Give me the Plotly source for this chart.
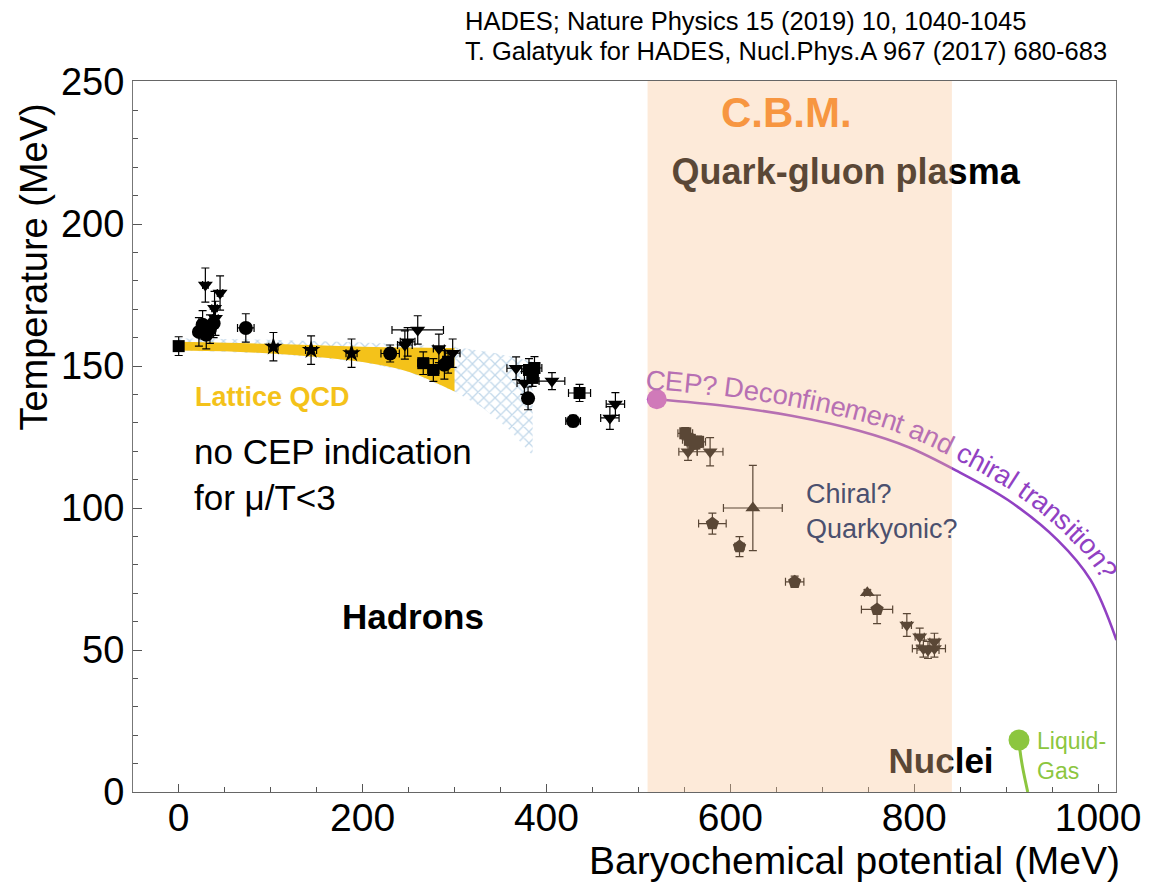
import numpy as np
import plotly.graph_objects as go

# ---------------- figure geometry ----------------
W, H = 1153, 888
ML, MR, MT, MB = 133, 31, 81, 96
PW, PH = W - ML - MR, H - MT - MB
X_RANGE = [-49.7, 1019.5]
Y_RANGE = [0, 250.35]
FONT = "Arial, 'Liberation Sans', sans-serif"

# ---------------- data ----------------
# Lattice QCD crossover band
lqcd_mu = [0, 50, 100, 150, 200, 250, 300]
lqcd_top = [158.5, 158.2, 157.8, 157.3, 156.8, 156.5, 156.3]
lqcd_bot = [155.5, 155.2, 154.4, 153.2, 151.4, 148.0, 141.0]

# hatched extrapolation region (closed outline)
hatch_mu = [0, 100, 200, 300, 345, 385, 385, 360, 330, 300, 250, 200, 100, 0]
hatch_T = [159.8, 159.2, 158.3, 156.8, 154.5, 151.5, 118.5, 127.5, 135.5, 141.0, 148.0, 151.4, 154.4, 155.5]

# freeze-out points: (mu, T, err_mu, err_T) per marker type
sq_mu = [0, 266, 277, 293, 381, 387, 385, 436, 551, 556, 561, 565]
sq_T = [157.0, 151.0, 148.6, 151.5, 148.6, 149.3, 145.8, 140.5, 126.3, 124.0, 122.7, 123.3]
sq_emu = [3, 6, 6, 6, 8, 8, 6, 12, 8, 8, 8, 8]
sq_eT = [3.3, 4, 4, 4, 4, 4, 3, 3, 2, 2, 2, 2]

ci_mu = [22, 26, 30, 34, 38, 73, 230, 289, 380, 429]
ci_T = [162.0, 164.5, 161.0, 163.0, 165.0, 163.4, 154.4, 150.4, 138.6, 130.6]
ci_emu = [5, 5, 5, 5, 5, 9, 10, 6, 5, 8]
ci_eT = [5, 5, 5, 5, 5, 5, 3, 5, 4, 2]

st_mu = [103, 144, 188]
st_T = [156.8, 155.6, 154.5]
st_emu = [5, 6, 6]
st_eT = [5, 5, 5]

td_mu = [29, 45, 39, 40, 246, 249, 260, 283, 298, 367, 376, 406, 469, 475,
         554, 578, 792, 806, 810, 815, 822, 822]
td_T = [178.5, 175.7, 170.3, 166.8, 157.4, 158.5, 162.7, 156.2, 154.5, 149.2, 144.0, 144.7, 131.7, 136.6,
        119.8, 119.8, 58.8, 54.7, 50.5, 50.0, 50.5, 52.9]
td_emu = [3, 3, 3, 3, 8, 8, 28, 6, 8, 10, 8, 14, 10, 10,
          10, 14, 5, 5, 12, 12, 12, 5]
td_eT = [6, 6, 6, 6, 5, 5, 5, 5, 5, 4, 4, 3, 4, 4,
         3, 5, 4, 3, 3, 3, 3, 3]

tu_mu = [624.5, 749]
tu_T = [100.0, 70.2]
tu_emu = [32, 3]
tu_eT = [15, 1]

pe_mu = [580.5, 610, 670, 759.6]
pe_T = [94.5, 86.4, 74.0, 64.3]
pe_emu = [15, 5, 10, 17]
pe_eT = [3.7, 3.5, 2, 5]

# conjectured first-order transition line starting at the CEP
cep_mu = [520, 595, 668, 740, 794, 848, 902, 956, 992, 1020]
cep_T = [138.3, 135.9, 132.4, 127.2, 121.4, 112.8, 102.8, 88.7, 74.6, 53.5]

# nuclear liquid-gas transition
lg_mu = [914.0, 915.0, 917.8, 923.5]
lg_T = [18.3, 14.8, 8.9, 0.0]

# CBM energy range
cbm_range = (510, 841)

# ---------------- helpers for text placement ----------------
def xd(px):
    return X_RANGE[0] + (px - ML) / PW * (X_RANGE[1] - X_RANGE[0])

def yd(py):
    return Y_RANGE[0] + (H - MB - py) / PH * (Y_RANGE[1] - Y_RANGE[0])

def xp(px):
    return (px - ML) / PW

def yp(py):
    return (H - MB - py) / PH

def to_px(mu, T):
    return (ML + (mu - X_RANGE[0]) / (X_RANGE[1] - X_RANGE[0]) * PW,
            MT + (Y_RANGE[1] - T) / (Y_RANGE[1] - Y_RANGE[0]) * PH)

fig = go.Figure()

# hatched region
fig.add_trace(go.Scatter(
    x=hatch_mu, y=hatch_T, mode="lines", fill="toself",
    line=dict(width=0), fillcolor="rgba(0,0,0,0)",
    fillpattern=dict(shape="x", fgcolor="#86b2d6", bgcolor="rgba(0,0,0,0)", size=8, solidity=0.3),
    hoverinfo="skip", showlegend=False))

# Lattice QCD band
fig.add_trace(go.Scatter(x=lqcd_mu, y=lqcd_bot, mode="lines", line=dict(width=0, color="#f4c21a"),
                         line_shape="spline", showlegend=False, hoverinfo="skip"))
fig.add_trace(go.Scatter(x=lqcd_mu, y=lqcd_top, mode="lines", line=dict(width=0, color="#f4c21a"),
                         line_shape="spline", fill="tonexty", fillcolor="#f4c21a",
                         showlegend=False, hoverinfo="skip"))

def add_points(mu, T, emu, eT, symbol, size):
    fig.add_trace(go.Scatter(
        x=mu, y=T, mode="markers",
        marker=dict(symbol=symbol, size=size, color="black", line=dict(width=0)),
        error_x=dict(type="data", array=emu, color="black", thickness=1.2, width=4),
        error_y=dict(type="data", array=eT, color="black", thickness=1.2, width=4),
        showlegend=False))

add_points(sq_mu, sq_T, sq_emu, sq_eT, "square", 12)
add_points(ci_mu, ci_T, ci_emu, ci_eT, "circle", 14)
add_points(st_mu, st_T, st_emu, st_eT, "star", 14)
add_points(td_mu, td_T, td_emu, td_eT, "triangle-down", 13)
add_points(tu_mu, tu_T, tu_emu, tu_eT, "triangle-up", 13)
add_points(pe_mu, pe_T, pe_emu, pe_eT, "pentagon", 14)

# transition line and critical point
PURPLE = "rgb(145,65,195)"
fig.add_trace(go.Scatter(x=cep_mu, y=cep_T, mode="lines", line=dict(color=PURPLE, width=2.6),
                         line_shape="spline", showlegend=False))
fig.add_trace(go.Scatter(x=[cep_mu[0]], y=[cep_T[0]], mode="markers",
                         marker=dict(size=20, color="rgb(185,80,205)"), showlegend=False))

# liquid-gas line with its end point
GREEN = "#8cc63f"
fig.add_trace(go.Scatter(x=lg_mu, y=lg_T, mode="lines", line=dict(color=GREEN, width=3),
                         line_shape="spline", showlegend=False))
fig.add_trace(go.Scatter(x=[lg_mu[0]], y=[lg_T[0]], mode="markers",
                         marker=dict(size=21, color=GREEN), showlegend=False))

# labels that sit beneath the CBM tint
fig.add_trace(go.Scatter(x=[xd(850)], y=[yd(175)], mode="text", text=["Quark-gluon plasma"],
                         textposition="middle center",
                         textfont=dict(family=FONT, size=36, color="black", weight="bold"),
                         showlegend=False))
fig.add_trace(go.Scatter(x=[xd(946)], y=[yd(764)], mode="text", text=["Nuclei"],
                         textposition="middle center",
                         textfont=dict(family=FONT, size=35, color="black", weight="bold"),
                         showlegend=False))

# CBM tint
TINT = (250, 196, 150)
TINT_A = 0.36
fig.add_shape(type="rect", xref="x", yref="paper", x0=cbm_range[0], x1=cbm_range[1], y0=0, y1=1,
              fillcolor="rgb(%d,%d,%d)" % TINT, opacity=TINT_A, line=dict(width=0), layer="above")

annotations = []

def ann(text, x, y, size, color="black", bold=False, xanchor="center", yanchor="middle",
        align="center", xref="x", yref="y", angle=0):
    if bold:
        text = "<b>%s</b>" % text
    annotations.append(dict(text=text, x=x, y=y, xref=xref, yref=yref, showarrow=False,
                            xanchor=xanchor, yanchor=yanchor, align=align, textangle=angle,
                            font=dict(family=FONT, size=size, color=color)))

ann("C.B.M.", xd(790), yd(112), 42, "rgb(247,150,65)", bold=True)
ann("Chiral?<br>Quarkyonic?", xd(808), yd(511), 27, "rgb(75,80,110)", xanchor="left", align="left")
ann("Lattice QCD", xd(273), yd(397), 27, "#f4c21a", bold=True)
ann("no CEP indication<br>for μ/T&lt;3", xd(192), yd(474), 35, "black", xanchor="left", align="left")
ann("Hadrons", xd(415), yd(616), 35, "black", bold=True)
ann("Liquid-<br>Gas", xd(1040), yd(756), 23, GREEN, xanchor="left", align="left")
ann("HADES; Nature Physics 15 (2019) 10, 1040-1045", xp(465), yp(21), 25.5,
    xanchor="left", xref="paper", yref="paper")
ann("T. Galatyuk for HADES, Nucl.Phys.A 967 (2017) 680-683", xp(465), yp(51), 25.5,
    xanchor="left", xref="paper", yref="paper")
ann("Baryochemical potential (MeV)", xp(1128), yp(860), 39, xanchor="right",
    xref="paper", yref="paper")
ann("Temperature (MeV)", xp(33), yp(267), 38, xref="paper", yref="paper", angle=-90)

# ---- label laid along the transition line ----
ADV = {' ': 278, '?': 556, 'C': 722, 'E': 667, 'P': 667, 'D': 722, 'e': 556, 'c': 500, 'o': 556,
       'n': 556, 'f': 278, 'i': 222, 'm': 833, 't': 278, 'a': 556, 'd': 556, 'h': 556, 'r': 333,
       'l': 222, 's': 500}
LABEL = "CEP? Deconfinement and chiral transition?"
LSIZE = 27.5
OFF = 19
P = np.array([to_px(m, t) for m, t in zip(cep_mu, cep_T)])
ext = np.vstack([2 * P[0] - P[1], P, 2 * P[-1] - P[-2]])
path = []
for i in range(1, len(ext) - 2):
    p0, p1, p2, p3 = ext[i - 1], ext[i], ext[i + 1], ext[i + 2]
    for t in np.linspace(0, 1, 30, endpoint=False):
        path.append(0.5 * ((2 * p1) + (-p0 + p2) * t + (2 * p0 - 5 * p1 + 4 * p2 - p3) * t ** 2
                           + (-p0 + 3 * p1 - 3 * p2 + p3) * t ** 3))
path.append(P[-1])
path = np.array(path)
tang = np.gradient(path, axis=0)
tang /= np.hypot(tang[:, 0], tang[:, 1])[:, None]
normal = np.column_stack([tang[:, 1], -tang[:, 0]])
opath = path + OFF * normal
# extend a little before the first node
lead = 20.0
opath = np.vstack([opath[0] - lead * tang[0], opath])
seg = np.hypot(*np.diff(opath, axis=0).T)
arc = np.concatenate([[0], np.cumsum(seg)])

def blend(c):
    return "rgb(%d,%d,%d)" % tuple(round(TINT_A * a + (1 - TINT_A) * b) for a, b in zip(TINT, c))

pos = lead - 13.0
for ch in LABEL:
    w = ADV[ch] / 1000 * LSIZE
    sc = pos + w / 2
    pos += w
    if ch == " ":
        continue
    x = np.interp(sc, arc, opath[:, 0])
    y = np.interp(sc, arc, opath[:, 1])
    x1 = np.interp(sc + 2, arc, opath[:, 0]) - np.interp(sc - 2, arc, opath[:, 0])
    y1 = np.interp(sc + 2, arc, opath[:, 1]) - np.interp(sc - 2, arc, opath[:, 1])
    angle = np.degrees(np.arctan2(y1, x1))
    mu = xd(x)
    col = blend((145, 65, 195)) if cbm_range[0] <= mu <= cbm_range[1] else PURPLE
    ann(ch, mu, yd(y), LSIZE, col, angle=angle)

fig.update_layout(
    width=W, height=H,
    margin=dict(l=ML, r=MR, t=MT, b=MB, pad=0),
    paper_bgcolor="white", plot_bgcolor="white",
    font=dict(family=FONT, color="black"),
    annotations=annotations,
    xaxis=dict(range=X_RANGE, showgrid=False, zeroline=False, showline=True, mirror=True,
               linecolor="#666", linewidth=1.2, ticks="inside", ticklen=8, tickcolor="#555",
               tickvals=[0, 200, 400, 600, 800, 1000], tickfont=dict(size=39),
               ticklabelstandoff=-9,
               minor=dict(ticks="inside", ticklen=5, dtick=50, tickcolor="#555")),
    yaxis=dict(range=Y_RANGE, showgrid=False, zeroline=False, showline=True, mirror=True,
               linecolor="#777", linewidth=1.2, ticks="inside", ticklen=9, tickcolor="#555",
               tickvals=[0, 50, 100, 150, 200, 250], tickfont=dict(size=38),
               minor=dict(ticks="inside", ticklen=5, dtick=10, tickcolor="#555")),
)

fig.write_html("out.html")
